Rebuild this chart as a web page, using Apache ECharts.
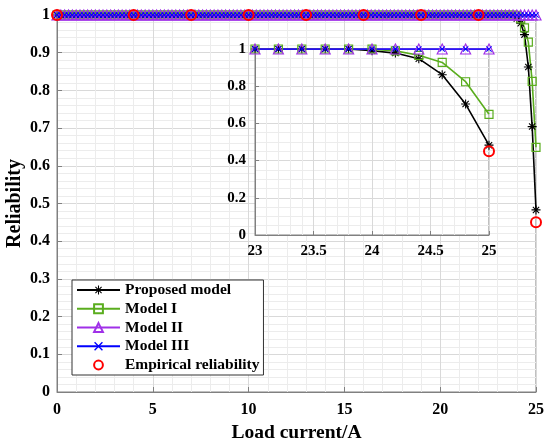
<!DOCTYPE html>
<html>
<head>
<meta charset="utf-8">
<script src="https://cdn.jsdelivr.net/npm/echarts@6/dist/echarts.min.js"></script>
<style>
  html, body { margin: 0; padding: 0; background: #fff; }
  #chart { width: 550px; height: 446px; }
</style>
</head>
<body>
<div id="chart"></div>
<script>
// load current (A), sampled every 0.2 A
var loadCurrent = [
  0, 0.2, 0.4, 0.6, 0.8, 1, 1.2, 1.4, 1.6, 1.8,
  2, 2.2, 2.4, 2.6, 2.8, 3, 3.2, 3.4, 3.6, 3.8,
  4, 4.2, 4.4, 4.6, 4.8, 5, 5.2, 5.4, 5.6, 5.8,
  6, 6.2, 6.4, 6.6, 6.8, 7, 7.2, 7.4, 7.6, 7.8,
  8, 8.2, 8.4, 8.6, 8.8, 9, 9.2, 9.4, 9.6, 9.8,
  10, 10.2, 10.4, 10.6, 10.8, 11, 11.2, 11.4, 11.6, 11.8,
  12, 12.2, 12.4, 12.6, 12.8, 13, 13.2, 13.4, 13.6, 13.8,
  14, 14.2, 14.4, 14.6, 14.8, 15, 15.2, 15.4, 15.6, 15.8,
  16, 16.2, 16.4, 16.6, 16.8, 17, 17.2, 17.4, 17.6, 17.8,
  18, 18.2, 18.4, 18.6, 18.8, 19, 19.2, 19.4, 19.6, 19.8,
  20, 20.2, 20.4, 20.6, 20.8, 21, 21.2, 21.4, 21.6, 21.8,
  22, 22.2, 22.4, 22.6, 22.8, 23, 23.2, 23.4, 23.6, 23.8,
  24, 24.2, 24.4, 24.6, 24.8, 25
];
var proposedModel = [
  1, 1, 1, 1, 1, 1, 1, 1, 1, 1, 1, 1, 1, 1, 1, 1, 1, 1, 1, 1,
  1, 1, 1, 1, 1, 1, 1, 1, 1, 1, 1, 1, 1, 1, 1, 1, 1, 1, 1, 1,
  1, 1, 1, 1, 1, 1, 1, 1, 1, 1, 1, 1, 1, 1, 1, 1, 1, 1, 1, 1,
  1, 1, 1, 1, 1, 1, 1, 1, 1, 1, 1, 1, 1, 1, 1, 1, 1, 1, 1, 1,
  1, 1, 1, 1, 1, 1, 1, 1, 1, 1, 1, 1, 1, 1, 1, 1, 1, 1, 1, 1,
  1, 1, 1, 1, 1, 1, 1, 1, 1, 1, 1, 1, 1, 1, 1, 1, 1, 1, 1, 1,
  0.991, 0.978, 0.948, 0.862, 0.704, 0.483
];
var modelI = [
  1, 1, 1, 1, 1, 1, 1, 1, 1, 1, 1, 1, 1, 1, 1, 1, 1, 1, 1, 1,
  1, 1, 1, 1, 1, 1, 1, 1, 1, 1, 1, 1, 1, 1, 1, 1, 1, 1, 1, 1,
  1, 1, 1, 1, 1, 1, 1, 1, 1, 1, 1, 1, 1, 1, 1, 1, 1, 1, 1, 1,
  1, 1, 1, 1, 1, 1, 1, 1, 1, 1, 1, 1, 1, 1, 1, 1, 1, 1, 1, 1,
  1, 1, 1, 1, 1, 1, 1, 1, 1, 1, 1, 1, 1, 1, 1, 1, 1, 1, 1, 1,
  1, 1, 1, 1, 1, 1, 1, 1, 1, 1, 1, 1, 1, 1, 1, 1, 1, 1, 1, 1,
  0.999, 0.99, 0.966, 0.928, 0.824, 0.649
];
var modelII = [
  1, 1, 1, 1, 1, 1, 1, 1, 1, 1, 1, 1, 1, 1, 1, 1, 1, 1, 1, 1,
  1, 1, 1, 1, 1, 1, 1, 1, 1, 1, 1, 1, 1, 1, 1, 1, 1, 1, 1, 1,
  1, 1, 1, 1, 1, 1, 1, 1, 1, 1, 1, 1, 1, 1, 1, 1, 1, 1, 1, 1,
  1, 1, 1, 1, 1, 1, 1, 1, 1, 1, 1, 1, 1, 1, 1, 1, 1, 1, 1, 1,
  1, 1, 1, 1, 1, 1, 1, 1, 1, 1, 1, 1, 1, 1, 1, 1, 1, 1, 1, 1,
  1, 1, 1, 1, 1, 1, 1, 1, 1, 1, 1, 1, 1, 1, 1, 1, 1, 1, 1, 1,
  1, 1, 1, 1, 1, 1
];
var modelIII = [
  1, 1, 1, 1, 1, 1, 1, 1, 1, 1, 1, 1, 1, 1, 1, 1, 1, 1, 1, 1,
  1, 1, 1, 1, 1, 1, 1, 1, 1, 1, 1, 1, 1, 1, 1, 1, 1, 1, 1, 1,
  1, 1, 1, 1, 1, 1, 1, 1, 1, 1, 1, 1, 1, 1, 1, 1, 1, 1, 1, 1,
  1, 1, 1, 1, 1, 1, 1, 1, 1, 1, 1, 1, 1, 1, 1, 1, 1, 1, 1, 1,
  1, 1, 1, 1, 1, 1, 1, 1, 1, 1, 1, 1, 1, 1, 1, 1, 1, 1, 1, 1,
  1, 1, 1, 1, 1, 1, 1, 1, 1, 1, 1, 1, 1, 1, 1, 1, 1, 1, 1, 1,
  1, 1, 1, 1, 1, 1
];
// empirical reliability from tests
var testCurrent = [0, 4, 7, 10, 13, 16, 19, 22, 25];
var empirical = [1, 1, 1, 1, 1, 1, 1, 1, 0.45];

var seriesNames = ["Proposed model", "Model I", "Model II", "Model III", "Empirical reliability"];

function zip(xs, ys) {
  return xs.map(function (x, i) { return [x, ys[i]]; });
}

// marker shapes (MATLAB style * and x)
var starPath = "path://M0 8.8L20 8.8L20 11.2L0 11.2Z M8.8 0L11.2 0L11.2 20L8.8 20Z " +
  "M3.85 2.15L17.85 16.15L16.15 17.85L2.15 3.85Z M17.85 3.85L3.85 17.85L2.15 16.15L16.15 2.15Z";
var crossPath = "path://M3.85 2.15L17.85 16.15L16.15 17.85L2.15 3.85Z M17.85 3.85L3.85 17.85L2.15 16.15L16.15 2.15Z";

var FONT = "Liberation Serif";
var GREEN = "#5aad1e";
var PURPLE = "#a030e8";

function makeSeries(idx, z) {
  var list = [
    {
      name: seriesNames[0], type: "line", data: zip(loadCurrent, proposedModel),
      symbol: starPath, symbolSize: 9,
      itemStyle: { color: "#000" }, lineStyle: { color: "#000", width: 1.6 }
    },
    {
      name: seriesNames[1], type: "line", data: zip(loadCurrent, modelI),
      symbol: "rect", symbolSize: 8,
      itemStyle: { color: "rgba(0,0,0,0)", borderColor: GREEN, borderWidth: 1.2 },
      lineStyle: { color: GREEN, width: 1.6 }
    },
    {
      name: seriesNames[2], type: "line", data: zip(loadCurrent, modelII),
      symbol: "triangle", symbolSize: 10,
      itemStyle: { color: "rgba(0,0,0,0)", borderColor: PURPLE, borderWidth: 1.2 },
      lineStyle: { color: PURPLE, width: 1.6 }
    },
    {
      name: seriesNames[3], type: "line", data: zip(loadCurrent, modelIII),
      symbol: crossPath, symbolSize: 6,
      itemStyle: { color: "#0000ff" }, lineStyle: { color: "#0000ff", width: 1.6 }
    },
    {
      name: seriesNames[4], type: "line", data: zip(testCurrent, empirical),
      symbol: "circle", symbolSize: 10,
      itemStyle: { color: "rgba(0,0,0,0)", borderColor: "#ff0000", borderWidth: 2 },
      lineStyle: { width: 0, opacity: 0 }
    }
  ];
  return list.map(function (s) {
    s.xAxisIndex = idx;
    s.yAxisIndex = idx;
    s.showAllSymbol = true;
    s.animation = false;
    s.z = z;
    s.clip = true;
    return s;
  });
}

var labelStyle = { color: "#000", fontFamily: FONT, fontWeight: "bold", fontSize: 16 };
var axisLineStyle = { lineStyle: { color: "#808080", width: 1 } };

var chart = echarts.init(document.getElementById("chart"));
var option = {
  backgroundColor: "#fff",
  animation: false,
  grid: [
    { left: 57, top: 15, right: 14, bottom: 54, containLabel: false, outerBoundsMode: "none",
      show: true, borderColor: "#808080", borderWidth: 1, z: 0 },
    { left: 255, top: 49, width: 234, height: 186, containLabel: false, outerBoundsMode: "none",
      show: true, backgroundColor: "#fff", borderColor: "#808080", borderWidth: 1, z: 3 }
  ],
  legend: {
    data: seriesNames,
    orient: "vertical",
    left: 72, top: 280,
    itemWidth: 43, itemHeight: 11, itemGap: 2.75,
    padding: [2, 4, 2, 4],
    backgroundColor: "#fff",
    borderColor: "#333", borderWidth: 1,
    textStyle: { color: "#000", fontFamily: FONT, fontWeight: "bold", fontSize: 15.5, lineHeight: 16 },
    selectedMode: false,
    z: 10
  },
  xAxis: [
    {
      type: "value", gridIndex: 0, min: 0, max: 25, interval: 5,
      name: "Load current/A", nameLocation: "middle", nameGap: 31,
      nameTextStyle: { color: "#000", fontFamily: FONT, fontWeight: "bold", fontSize: 19.5 },
      axisLine: axisLineStyle,
      axisTick: { inside: true, length: 5, lineStyle: { color: "#808080" } },
      axisLabel: Object.assign({ margin: 10 }, labelStyle),
      splitLine: { show: true, lineStyle: { color: "#d9d9d9", width: 1 } },
      minorTick: { show: false, splitNumber: 5 },
      minorSplitLine: { show: true, lineStyle: { color: "#ececec", width: 1 } }
    },
    {
      type: "value", gridIndex: 1, min: 23, max: 25, interval: 0.5, z: 4,
      axisLine: axisLineStyle,
      axisTick: { inside: true, length: 4, lineStyle: { color: "#808080" } },
      axisLabel: Object.assign({ margin: 9 }, labelStyle, { fontSize: 15 }),
      splitLine: { show: true, lineStyle: { color: "#d9d9d9", width: 1 } },
      minorTick: { show: false, splitNumber: 5 },
      minorSplitLine: { show: true, lineStyle: { color: "#ececec", width: 1 } }
    }
  ],
  yAxis: [
    {
      type: "value", gridIndex: 0, min: 0, max: 1, interval: 0.1,
      name: "Reliability", nameLocation: "middle", nameGap: 32, nameMoveOverlap: false,
      nameTextStyle: { color: "#000", fontFamily: FONT, fontWeight: "bold", fontSize: 20 },
      axisLine: axisLineStyle,
      axisTick: { inside: true, length: 5, lineStyle: { color: "#808080" } },
      axisLabel: Object.assign({ margin: 7 }, labelStyle),
      splitLine: { show: true, lineStyle: { color: "#d9d9d9", width: 1 } },
      minorTick: { show: false, splitNumber: 5 },
      minorSplitLine: { show: true, lineStyle: { color: "#ececec", width: 1 } }
    },
    {
      type: "value", gridIndex: 1, min: 0, max: 1, interval: 0.2, z: 4,
      axisLine: axisLineStyle,
      axisTick: { inside: true, length: 4, lineStyle: { color: "#808080" } },
      axisLabel: Object.assign({ margin: 9 }, labelStyle, { fontSize: 15 }),
      splitLine: { show: true, lineStyle: { color: "#d9d9d9", width: 1 } },
      minorTick: { show: false, splitNumber: 4 },
      minorSplitLine: { show: true, lineStyle: { color: "#ececec", width: 1 } }
    }
  ],
  series: makeSeries(0, 2).concat(makeSeries(1, 6))
};
chart.setOption(option);
window.addEventListener("resize", function () {
  chart.resize();
});
</script>
</body>
</html>
